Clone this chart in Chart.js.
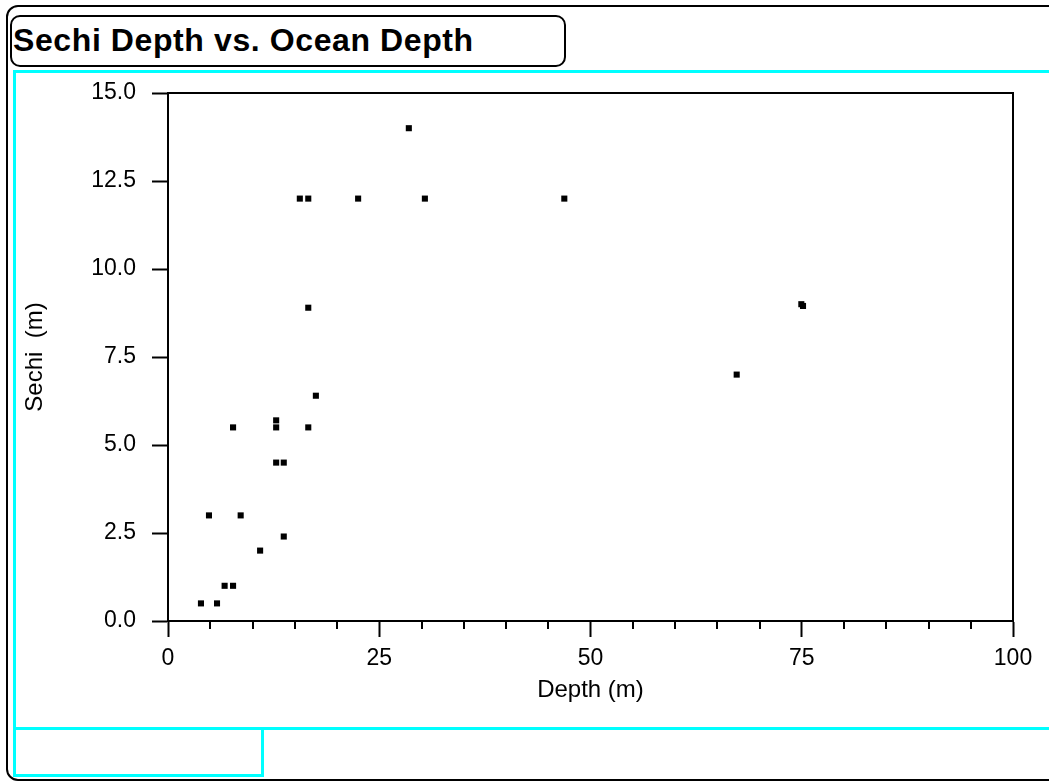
<!DOCTYPE html>
<html>
<head>
<meta charset="utf-8">
<title>Sechi Depth vs. Ocean Depth</title>
<script src="https://cdn.jsdelivr.net/npm/chart.js@4.4.0/dist/chart.umd.min.js"></script>
<style>
  html, body { margin: 0; padding: 0; background: #fff; }
  #page { position: relative; width: 1049px; height: 782px; overflow: hidden; }
  .frame { position: absolute; box-sizing: border-box; }
  #outer { left: 6px; top: 5px; width: 1100px; height: 776px; border: 2px solid #000; border-radius: 12px; }
  #titleBox { left: 10px; top: 15px; width: 556px; height: 52px; border: 2px solid #000; border-radius: 10px; }
  #titleText { position: absolute; left: 13px; top: 24px; font: bold 32px/32px "Liberation Sans", Arial, Helvetica, sans-serif; letter-spacing: 0.6px; color: #000; white-space: nowrap; }
  #cyanMain { left: 13px; top: 70px; width: 1100px; height: 660px; border-top: 3px solid #00ffff; border-left: 3px solid #00ffff; border-bottom: 3px solid #00ffff; }
  #cyanSmall { left: 13px; top: 727px; width: 251px; height: 50px; border: 3px solid #00ffff; }
  #myChart { position: absolute; left: 0; top: 0; }
</style>
</head>
<body>
<div id="page">
  <div class="frame" id="outer"></div>
  <div class="frame" id="cyanMain"></div>
  <div class="frame" id="cyanSmall"></div>
  <div class="frame" id="titleBox"></div>
  <div id="titleText">Sechi Depth vs. Ocean Depth</div>
  <canvas id="myChart" width="1049" height="782"></canvas>
</div>
<script>
// readings
const depthM = [3.9, 5.8, 4.85, 6.7, 7.7, 8.6, 10.9, 12.8, 12.8, 12.8, 13.7, 13.7, 7.7, 16.6, 17.5, 16.6, 15.6, 16.6, 22.5, 28.5, 30.4, 46.9, 67.3, 74.95, 75.15];
const sechiM = [0.5, 0.5, 3.0, 1.0, 1.0, 3.0, 2.0, 4.5, 5.5, 5.7, 4.5, 2.4, 5.5, 5.5, 6.4, 8.9, 12.0, 12.0, 12.0, 14.0, 12.0, 12.0, 7.0, 9.0, 8.95];
const xMajorStep = 25;
const xMinorStep = 5;
const yStep = 2.5;

const points = depthM.map((d, i) => ({ x: d, y: sechiM[i] }));

const tickFont = { family: "'Liberation Sans', Arial, Helvetica, sans-serif", size: 23 };
const titleFont = { family: "'Liberation Sans', Arial, Helvetica, sans-serif", size: 24 };

// box round the plot plus the short minor ticks on the x axis
const plotExtras = {
  id: "plotExtras",
  afterDraw(chart) {
    const { ctx, chartArea } = chart;
    const xs = chart.scales.x;
    ctx.save();
    ctx.strokeStyle = "#000";
    ctx.lineWidth = 2;
    ctx.beginPath();
    ctx.moveTo(chartArea.left, chartArea.top);
    ctx.lineTo(chartArea.right, chartArea.top);
    ctx.lineTo(chartArea.right, chartArea.bottom);
    ctx.stroke();
    ctx.beginPath();
    for (let v = xs.min; v <= xs.max; v += xMinorStep) {
      if (v % xMajorStep === 0) continue;
      const px = Math.round(xs.getPixelForValue(v));
      ctx.moveTo(px, chartArea.bottom);
      ctx.lineTo(px, chartArea.bottom + 8);
    }
    ctx.stroke();
    ctx.restore();
  },
};

const newChart = document.getElementById("myChart").getContext("2d");
// eslint-disable-next-line no-undef
const myChart = new Chart(newChart, {
  type: "scatter",
  data: {
    datasets: [
      {
        label: "Sechi",
        data: points,
        pointStyle: "rect",
        pointRadius: 4.3,
        pointHoverRadius: 4.3,
        backgroundColor: "#000",
        borderColor: "#000",
        borderWidth: 0,
      },
    ],
  },
  options: {
    responsive: false,
    animation: false,
    layout: { padding: { left: 20, top: 93, right: 36, bottom: 72 } },
    plugins: {
      legend: { display: false },
      tooltip: { enabled: false },
    },
    scales: {
      x: {
        type: "linear",
        min: 0,
        max: 100,
        afterFit(scale) {
          scale.height = 89;
        },
        ticks: {
          stepSize: xMajorStep,
          color: "#000",
          font: tickFont,
          padding: 8,
          maxRotation: 0,
        },
        grid: {
          drawOnChartArea: false,
          drawTicks: true,
          tickLength: 16,
          tickWidth: 2,
          tickColor: "#000",
        },
        border: { display: true, color: "#000", width: 2 },
        title: {
          display: true,
          text: "Depth (m)",
          color: "#000",
          font: titleFont,
          padding: { top: 0, bottom: 5 },
        },
      },
      y: {
        type: "linear",
        min: 0,
        max: 15,
        afterFit(scale) {
          scale.width = 148;
        },
        ticks: {
          stepSize: yStep,
          color: "#000",
          font: tickFont,
          padding: 16,
          callback: (v) => Number(v).toFixed(1),
        },
        grid: {
          drawOnChartArea: false,
          drawTicks: true,
          tickLength: 16,
          tickWidth: 2,
          tickColor: "#000",
        },
        border: { display: true, color: "#000", width: 2 },
        title: {
          display: true,
          text: "Sechi  (m)",
          color: "#000",
          font: titleFont,
          padding: { top: 1, bottom: 1 },
        },
      },
    },
  },
  plugins: [plotExtras],
});
</script>
</body>
</html>
